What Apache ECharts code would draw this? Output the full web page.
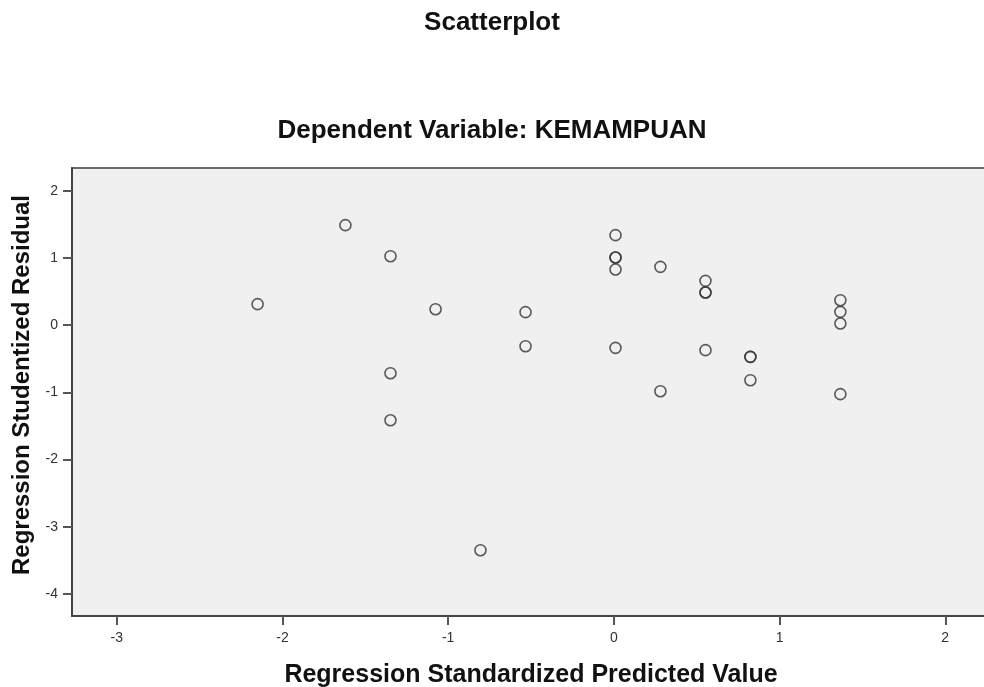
<!DOCTYPE html>
<html>
<head>
<meta charset="utf-8">
<script src="https://cdn.jsdelivr.net/npm/echarts@6/dist/echarts.min.js"></script>
<style>
html,body{margin:0;padding:0;background:#fff;}
#chart{width:984px;height:687px;}
</style>
</head>
<body>
<div id="chart"></div>
<script>
var chartTitle = 'Scatterplot';
var chartSubtitle = 'Dependent Variable: KEMAMPUAN';
var xAxisTitle = 'Regression Standardized Predicted Value';
var yAxisTitle = 'Regression Studentized Residual';

// Regression standardized predicted values (x) and studentized residuals (y)
var xValues = [-2.150, -1.620, -1.348, -1.348, -1.348, -1.076, -0.805, -0.533, -0.533,
               0.010, 0.010, 0.010, 0.010, 0.010,
               0.281, 0.281,
               0.553, 0.553, 0.553, 0.553,
               0.824, 0.824, 0.824,
               1.367, 1.367, 1.367, 1.367];
var yValues = [0.313, 1.489, 1.027, -0.715, -1.415, 0.238, -3.350, 0.194, -0.313,
               1.340, 1.008, 1.008, 0.829, -0.338,
               0.868, -0.983,
               0.660, 0.487, 0.487, -0.372,
               -0.472, -0.472, -0.819,
               0.372, 0.198, 0.025, -1.027];

var xTicks = [-3, -2, -1, 0, 1, 2];
var yTicks = [-4, -3, -2, -1, 0, 1, 2];

var points = xValues.map(function (x, i) { return [x, yValues[i]]; });
var FONT = 'Liberation Sans, Arial, sans-serif';

var chart = echarts.init(document.getElementById('chart'), null, {renderer: 'canvas'});
chart.setOption({
  backgroundColor: '#ffffff',
  animation: false,
  title: [
    {text: chartTitle, left: 'center', top: 10, padding: 0,
     textStyle: {fontFamily: FONT, fontSize: 26, fontWeight: 'bold', color: '#111'}},
    {text: chartSubtitle, left: 'center', top: 118, padding: 0,
     textStyle: {fontFamily: FONT, fontSize: 26, fontWeight: 'bold', color: '#111'}}
  ],
  grid: {
    left: 72, top: 168, right: -6, bottom: 71,
    outerBoundsMode: 'none', containLabel: false,
    show: true, backgroundColor: '#f0f0f0', borderColor: '#6a6a6a', borderWidth: 2
  },
  xAxis: {
    type: 'value', min: -3.27, max: 2.27,
    name: xAxisTitle, nameLocation: 'middle', nameGap: 47,
    nameTextStyle: {fontFamily: FONT, fontSize: 25, fontWeight: 'bold', color: '#111'},
    axisLine: {show: true, onZero: false, lineStyle: {color: '#444', width: 2}},
    axisTick: {show: true, length: 9, lineStyle: {color: '#555', width: 2},
      customValues: xTicks},
    axisLabel: {fontFamily: FONT, fontSize: 14, color: '#333', margin: 15,
      customValues: xTicks, formatter: function (v) { return String(v); }},
    splitLine: {show: false}
  },
  yAxis: {
    type: 'value', min: -4.33, max: 2.34,
    name: yAxisTitle, nameLocation: 'middle', nameGap: 38,
    nameTextStyle: {fontFamily: FONT, fontSize: 24, fontWeight: 'bold', color: '#111',
      padding: [0, 0, 0, 14]},
    axisLine: {show: true, onZero: false, lineStyle: {color: '#444', width: 2}},
    axisTick: {show: true, length: 9, lineStyle: {color: '#555', width: 2},
      customValues: yTicks},
    axisLabel: {fontFamily: FONT, fontSize: 14, color: '#333', margin: 14,
      customValues: yTicks, formatter: function (v) { return String(v); }},
    splitLine: {show: false}
  },
  series: [{
    type: 'scatter',
    data: points,
    symbol: 'circle',
    symbolSize: 11,
    itemStyle: {color: 'rgba(0,0,0,0)', borderColor: '#333', borderWidth: 1.6}
  }]
});
</script>
</body>
</html>
